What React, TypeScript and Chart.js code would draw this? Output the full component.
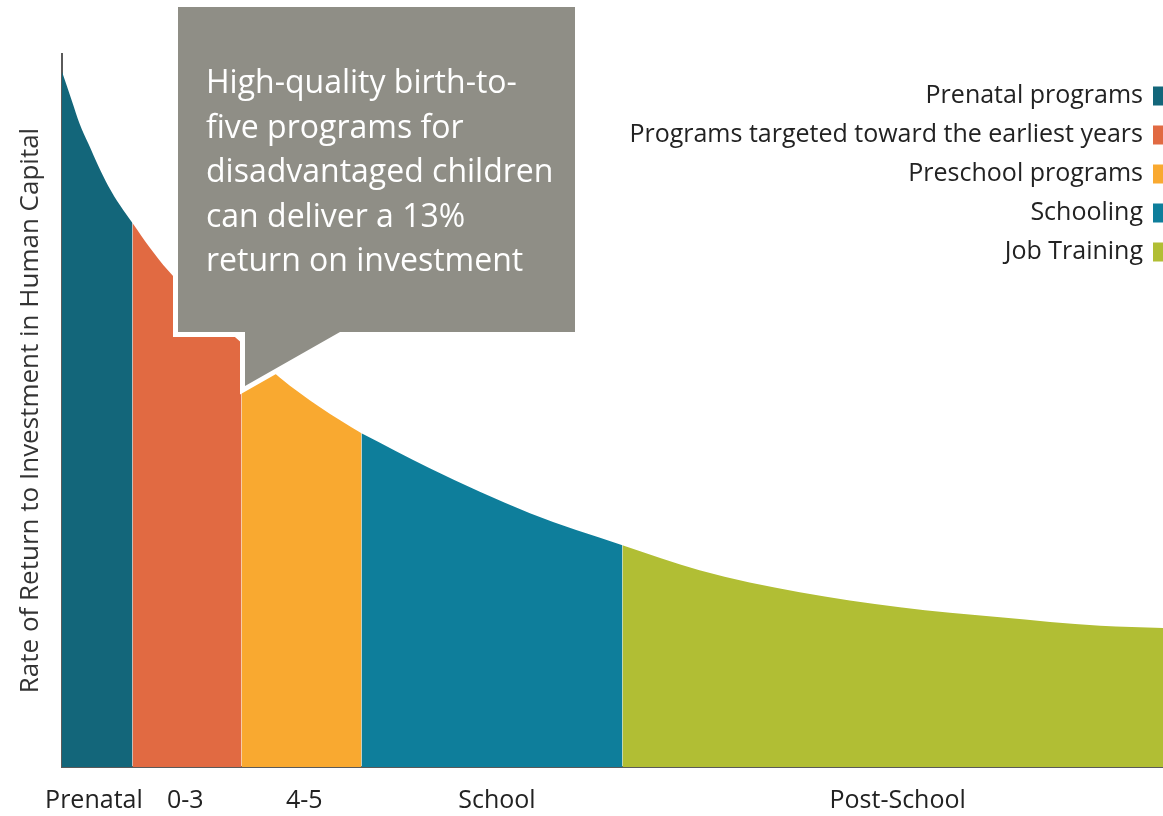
import React, { useEffect, useRef } from "react";
import { Chart, registerables } from "chart.js";
Chart.register(...registerables);

// Curve (x: position along life cycle 0..100, y: rate of return 0..100)
const curveX = [0, 0.9, 1.6, 2.4, 3.3, 4.2, 5.3, 6.4, 8.0, 9.6, 13.0, 16.3, 19.8, 23.4, 27.2, 33.4, 42.5, 50.9, 57.9, 67.0, 76.1, 85.2, 94.3, 100];
const curveY = [97.5, 93.4, 90.2, 87.4, 84.3, 81.5, 78.7, 76.3, 72.8, 69.7, 64.1, 59.5, 54.6, 50.5, 46.8, 41.9, 35.6, 31.1, 27.6, 24.5, 22.4, 21.0, 19.8, 19.5];

const segmentLabels = [
  "Prenatal programs",
  "Programs targeted toward the earliest years",
  "Preschool programs",
  "Schooling",
  "Job Training",
];
const segmentBounds = [0, 6.4, 16.3, 27.2, 50.9, 100];
const segmentColors = ["#13667A", "#E16A42", "#F9A930", "#0E7E9B", "#B1BE34"];

const tickLabels = ["Prenatal", "0-3", "4-5", "School", "Post-School"];
const tickValues = [2.9, 11.2, 22.0, 39.5, 75.9];

const yTitle = "Rate of Return to Investment in Human Capital";
const calloutLines = [
  "High-quality birth-to-",
  "five programs for",
  "disadvantaged children",
  "can deliver a 13%",
  "return on investment",
];

const FONT = '"Open Sans", "DejaVu Sans", sans-serif';

const legendPlugin = {
  id: "customLegend",
  afterDraw(chart: any) {
    const ctx = chart.ctx;
    ctx.save();
    ctx.font = `25px ${FONT}`;
    ctx.textAlign = "right";
    ctx.textBaseline = "middle";
    chart.data.datasets.forEach((ds: any, i: number) => {
      const y = 96 + i * 39;
      ctx.fillStyle = "#222";
      ctx.fillText(ds.label, 1143, y);
      ctx.fillStyle = ds.backgroundColor;
      ctx.fillRect(1153, y - 9.5, 12, 19);
    });
    ctx.restore();
  },
};

const calloutPlugin = {
  id: "callout",
  afterDraw(chart: any) {
    const ctx = chart.ctx;
    ctx.save();
    ctx.beginPath();
    ctx.moveTo(178, 7);
    ctx.lineTo(575, 7);
    ctx.lineTo(575, 332);
    ctx.lineTo(340, 332);
    ctx.lineTo(245, 386);
    ctx.lineTo(245, 332);
    ctx.lineTo(178, 332);
    ctx.closePath();
    ctx.lineJoin = "miter";
    ctx.lineWidth = 10;
    ctx.strokeStyle = "#ffffff";
    ctx.stroke();
    ctx.fillStyle = "#8F8E86";
    ctx.fill();
    ctx.fillStyle = "#ffffff";
    ctx.font = `32px ${FONT}`;
    ctx.textAlign = "left";
    ctx.textBaseline = "alphabetic";
    calloutLines.forEach((t, i) => ctx.fillText(t, 206, 93 + i * 44.5));
    ctx.restore();
  },
};

export default function App() {
  const ref = useRef<HTMLCanvasElement>(null);
  useEffect(() => {
    if (!ref.current) return;
    const datasets = segmentLabels.map((label, i) => {
      const lo = segmentBounds[i];
      const hi = segmentBounds[i + 1];
      const pts = curveX
        .map((x, k) => ({ x, y: curveY[k] }))
        .filter((p) => p.x >= lo - 1e-9 && p.x <= hi + 1e-9);
      return {
        label,
        data: pts,
        backgroundColor: segmentColors[i],
        borderColor: segmentColors[i],
        borderWidth: 0,
        pointRadius: 0,
        fill: "origin",
        tension: 0.4,
        cubicInterpolationMode: "monotone" as const,
      };
    });
    const chart = new Chart(ref.current, {
      type: "line",
      data: { datasets },
      options: {
        animation: false,
        responsive: false,
        layout: { padding: { top: 54, right: 0, left: 0, bottom: 0 } },
        plugins: { legend: { display: false }, tooltip: { enabled: false } },
        scales: {
          x: {
            type: "linear",
            min: 0,
            max: 100,
            grid: { display: false },
            border: { display: true, color: "#5a5a5a", width: 2 },
            afterBuildTicks: (scale: any) => {
              scale.ticks = tickValues.map((v) => ({ value: v }));
            },
            afterFit: (scale: any) => {
              scale.height = 49;
            },
            ticks: {
              autoSkip: false,
              maxRotation: 0,
              padding: 11,
              color: "#222",
              font: { family: FONT, size: 25 },
              callback: (_v: any, idx: number) => tickLabels[idx],
            },
          },
          y: {
            min: 0,
            max: 100,
            grid: { display: false },
            border: { display: true, color: "#5a5a5a", width: 2 },
            ticks: { display: false },
            afterFit: (scale: any) => {
              scale.width = 62;
            },
            title: {
              display: true,
              text: yTitle,
              color: "#333",
              font: { family: FONT, size: 26 },
              padding: { top: 15, bottom: 0 },
            },
          },
        },
      },
      plugins: [calloutPlugin, legendPlugin],
    });
    return () => chart.destroy();
  }, []);
  return (
    <div style={{ position: "absolute", left: 0, top: 0, width: 1163, height: 816, background: "#fff" }}>
      <canvas ref={ref} width={1163} height={816} />
    </div>
  );
}
